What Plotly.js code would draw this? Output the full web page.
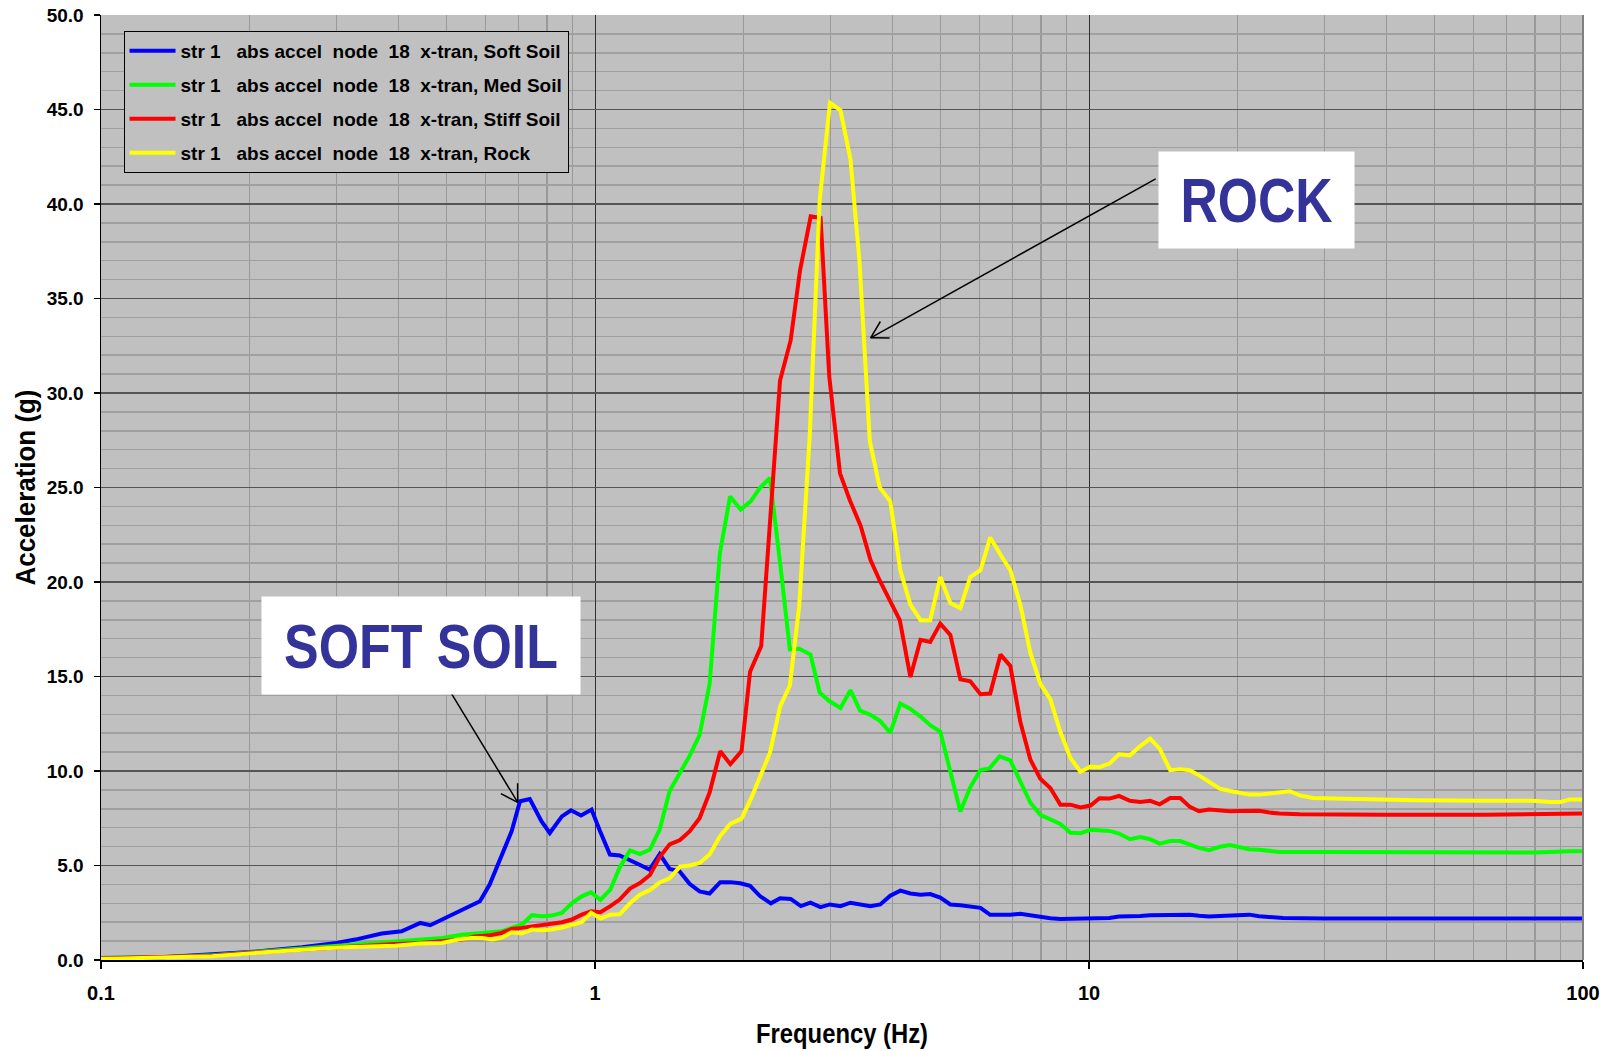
<!DOCTYPE html>
<html>
<head>
<meta charset="utf-8">
<script src="https://cdn.plot.ly/plotly-3.0.1.min.js"></script>
<style>
  html, body { margin: 0; padding: 0; background: #ffffff; }
  #chart { width: 1614px; height: 1051px; }
</style>
</head>
<body>
<div id="chart"></div>
<script>
// Absolute acceleration response, node 18 x-translation, four site classes.
// Frequencies in Hz, accelerations in g.

const freqSoft = [0.1, 0.133, 0.168, 0.2, 0.255, 0.3, 0.327, 0.37, 0.406, 0.443,
  0.464, 0.505, 0.537, 0.585, 0.612, 0.642, 0.678, 0.705, 0.738, 0.779,
  0.81, 0.857, 0.894, 0.937, 0.984, 1.024, 1.072, 1.122, 1.175, 1.231,
  1.29, 1.352, 1.416, 1.483, 1.554, 1.628, 1.706, 1.793, 1.879, 1.968,
  2.06, 2.16, 2.27, 2.37, 2.49, 2.61, 2.73, 2.86, 2.99, 3.14,
  3.29, 3.44, 3.61, 3.78, 3.96, 4.15, 4.35, 4.56, 4.77, 5.0,
  5.24, 5.49, 5.75, 6.03, 6.31, 6.62, 6.93, 7.26, 7.61, 7.97,
  8.35, 8.75, 9.17, 9.61, 10.07, 10.5, 11.0, 11.5, 12.1, 12.7,
  13.3, 14.6, 16.0, 16.7, 17.5, 18.4, 19.3, 20.2, 21.1, 22.1,
  23.2, 24.7, 30, 40, 60, 80, 100];
const accelSoft = [0.1, 0.15, 0.3, 0.42, 0.67, 0.9, 1.08, 1.4, 1.52, 1.96,
  1.84, 2.31, 2.67, 3.11, 3.99, 5.31, 6.81, 8.4, 8.52, 7.34,
  6.72, 7.6, 7.92, 7.65, 7.96, 6.81, 5.58, 5.53, 5.31, 5.04,
  4.78, 5.6, 4.82, 4.7, 4.03, 3.63, 3.52, 4.12, 4.12, 4.06,
  3.92, 3.37, 3.0, 3.27, 3.23, 2.85, 3.03, 2.8, 2.94, 2.85,
  3.03, 2.94, 2.85, 2.94, 3.4, 3.67, 3.52, 3.45, 3.49, 3.3,
  2.94, 2.9, 2.85, 2.76, 2.39, 2.39, 2.39, 2.45, 2.36, 2.3,
  2.21, 2.17, 2.17, 2.17, 2.17, 2.2, 2.22, 2.3, 2.3, 2.33,
  2.37, 2.38, 2.4, 2.34, 2.3, 2.33, 2.36, 2.4, 2.4, 2.32,
  2.27, 2.22, 2.2, 2.19, 2.18, 2.2, 2.2];

const freqMed = [0.1, 0.133, 0.168, 0.2, 0.255, 0.3, 0.35, 0.394, 0.443, 0.49,
  0.537, 0.59, 0.647, 0.678, 0.711, 0.745, 0.78, 0.817, 0.857, 0.897,
  0.94, 0.982, 1.026, 1.074, 1.122, 1.177, 1.233, 1.292, 1.352, 1.416,
  1.483, 1.554, 1.628, 1.706, 1.79, 1.877, 1.972, 2.066, 2.158, 2.26,
  2.37, 2.48, 2.59, 2.73, 2.85, 2.98, 3.14, 3.29, 3.44, 3.61,
  3.78, 3.96, 4.15, 4.35, 4.56, 4.77, 5.0, 5.24, 5.49, 5.75,
  6.03, 6.29, 6.59, 6.93, 7.26, 7.61, 7.97, 8.35, 8.75, 9.17,
  9.61, 10.07, 10.5, 11.0, 11.5, 12.1, 12.7, 13.3, 13.9, 14.6,
  15.3, 16.0, 16.7, 17.5, 18.4, 19.3, 20.2, 21.1, 22.1, 23.2,
  24.3, 30, 40, 60, 80, 94, 100];
const accelMed = [0.1, 0.15, 0.25, 0.4, 0.6, 0.75, 0.85, 0.94, 1.08, 1.17,
  1.34, 1.43, 1.52, 1.7, 1.87, 2.37, 2.31, 2.35, 2.49, 3.0,
  3.37, 3.58, 3.19, 3.72, 4.9, 5.8, 5.6, 5.85, 6.9, 8.94,
  9.87, 10.8, 11.9, 14.6, 21.54, 24.53, 23.83, 24.27, 24.98, 25.51,
  21.0, 16.43, 16.47, 16.16, 14.15, 13.7, 13.33, 14.28, 13.19, 12.97,
  12.64, 12.02, 13.57, 13.28, 12.88, 12.42, 12.09, 10.05, 7.86, 9.14,
  10.05, 10.14, 10.78, 10.56, 9.41, 8.32, 7.68, 7.45, 7.2, 6.73,
  6.71, 6.89, 6.87, 6.83, 6.69, 6.39, 6.51, 6.39, 6.16, 6.29,
  6.29, 6.11, 5.93, 5.81, 5.99, 6.08, 5.99, 5.86, 5.83, 5.76,
  5.72, 5.72, 5.72, 5.71, 5.69, 5.76, 5.76];

const freqStiff = [0.1, 0.133, 0.168, 0.2, 0.255, 0.3, 0.35, 0.394, 0.443, 0.46,
  0.505, 0.537, 0.57, 0.608, 0.647, 0.678, 0.711, 0.745, 0.78, 0.817,
  0.857, 0.897, 0.94, 0.982, 1.026, 1.074, 1.122, 1.177, 1.233, 1.292,
  1.352, 1.416, 1.486, 1.554, 1.628, 1.706, 1.793, 1.879, 1.98, 2.06,
  2.17, 2.369, 2.489, 2.6, 2.733, 2.862, 2.98, 3.133, 3.283, 3.45,
  3.61, 3.77, 3.95, 4.14, 4.35, 4.56, 4.77, 5.0, 5.24, 5.49,
  5.75, 6.03, 6.31, 6.62, 6.93, 7.26, 7.61, 7.97, 8.35, 8.75,
  9.17, 9.61, 10.07, 10.5, 11.0, 11.5, 12.1, 12.7, 13.3, 13.9,
  14.6, 15.3, 16.0, 16.7, 17.5, 18.4, 19.3, 20.2, 21.1, 22.1,
  23.2, 24.3, 26.7, 31.2, 40, 63, 80, 94, 100];
const accelStiff = [0.08, 0.13, 0.22, 0.38, 0.55, 0.7, 0.8, 0.85, 0.9, 0.94,
  1.0, 1.08, 1.25, 1.29, 1.43, 1.64, 1.7, 1.78, 1.82, 1.93,
  2.0, 2.14, 2.4, 2.58, 2.53, 2.85, 3.2, 3.78, 4.07, 4.5,
  5.45, 6.12, 6.35, 6.8, 7.5, 8.86, 11.05, 10.36, 11.05, 15.25,
  16.61, 30.66, 32.78, 36.48, 39.35, 39.26, 30.88, 25.75, 24.3, 22.97,
  21.18, 20.08, 18.98, 17.98, 14.97, 16.94, 16.83, 17.8, 17.2, 14.85,
  14.75, 14.06, 14.1, 16.16, 15.56, 12.6, 10.6, 9.59, 9.1, 8.22,
  8.22, 8.07, 8.17, 8.56, 8.54, 8.68, 8.42, 8.36, 8.42, 8.24,
  8.57, 8.57, 8.1, 7.87, 7.96, 7.89, 7.87, 7.89, 7.92, 7.9,
  7.8, 7.75, 7.71, 7.69, 7.69, 7.69, 7.71, 7.75, 7.75];

const freqRock = [0.1, 0.133, 0.168, 0.2, 0.232, 0.255, 0.284, 0.312, 0.35, 0.394,
  0.443, 0.49, 0.529, 0.562, 0.59, 0.618, 0.647, 0.678, 0.711, 0.745,
  0.78, 0.817, 0.857, 0.897, 0.94, 0.982, 1.026, 1.074, 1.122, 1.177,
  1.233, 1.292, 1.352, 1.416, 1.486, 1.554, 1.628, 1.706, 1.793, 1.879,
  1.98, 2.07, 2.17, 2.26, 2.37, 2.48, 2.59, 2.72, 2.85, 2.99,
  3.14, 3.29, 3.43, 3.6, 3.77, 3.96, 4.15, 4.35, 4.56, 4.77,
  5.0, 5.24, 5.49, 5.75, 6.03, 6.31, 6.62, 6.93, 7.26, 7.61,
  7.97, 8.35, 8.75, 9.17, 9.61, 10.07, 10.5, 11.0, 11.5, 12.1,
  12.7, 13.3, 13.9, 14.6, 15.3, 16.0, 16.7, 17.5, 18.4, 19.3,
  20.2, 21.1, 22.1, 23.2, 24.3, 25.5, 26.7, 28.4, 31.2, 36.4,
  46, 63, 79, 86, 90, 94, 100];
const accelRock = [0.05, 0.12, 0.2, 0.35, 0.48, 0.55, 0.62, 0.67, 0.72, 0.76,
  0.87, 0.9, 1.08, 1.17, 1.17, 1.08, 1.17, 1.47, 1.4, 1.61,
  1.57, 1.61, 1.72, 1.85, 2.0, 2.5, 2.2, 2.4, 2.42, 3.0,
  3.45, 3.7, 4.1, 4.32, 4.94, 5.0, 5.13, 5.58, 6.57, 7.2,
  7.48, 8.55, 9.8, 10.96, 13.42, 14.52, 18.71, 27.7, 40.2, 45.35,
  44.96, 42.35, 37.0, 27.45, 25.0, 24.27, 20.62, 18.8, 17.98, 17.98,
  20.26, 18.89, 18.62, 20.26, 20.62, 22.36, 21.44, 20.62, 18.8, 16.25,
  14.61, 13.8, 12.06, 10.69, 9.96, 10.23, 10.2, 10.39, 10.88, 10.83,
  11.32, 11.71, 11.18, 10.04, 10.09, 10.04, 9.77, 9.45, 9.07, 8.94,
  8.84, 8.75, 8.75, 8.8, 8.86, 8.93, 8.71, 8.57, 8.54, 8.5,
  8.45, 8.42, 8.42, 8.36, 8.36, 8.49, 8.49];

const NB = '\u00a0';
const seriesPrefix = 'str 1' + NB + NB + ' abs accel' + NB + ' node' + NB + ' 18' + NB + ' x-tran, ';
const seriesNames = ['Soft Soil', 'Med Soil', 'Stiff Soil', 'Rock'];
const seriesColors = ['#0000ff', '#00ff00', '#ff0000', '#ffff00'];

const xRange = [-1, 2];          // log10 of 0.1 .. 100 Hz
const yRange = [0, 50];
const xTickVals = [0.1, 1, 10, 100];
const xTickText = ['0.1', '1', '10', '100'];
const xMinorVals = [0.2, 0.3, 0.4, 0.5, 0.6, 0.7, 0.8, 0.9,
  2, 3, 4, 5, 6, 7, 8, 9, 20, 30, 40, 50, 60, 70, 80, 90];

// Callout targets (frequency in Hz, acceleration in g)
const rockTarget = [3.614, 32.92];
const softTarget = [0.6975, 8.34];

const FONT = 'Liberation Sans, Arial, Helvetica, sans-serif';

const xs = [freqSoft, freqMed, freqStiff, freqRock];
const ys = [accelSoft, accelMed, accelStiff, accelRock];

const traces = seriesNames.map((n, i) => ({
  type: 'scatter',
  mode: 'lines',
  name: seriesPrefix + n,
  x: xs[i],
  y: ys[i],
  line: { color: seriesColors[i], width: 4 },
  legendgroup: 'g' + i
}));

// Horizontal position of a frequency on the log axis, as a fraction of the plot width
function freqToPaper(f) {
  return (Math.log10(f) - xRange[0]) / (xRange[1] - xRange[0]);
}

// Open arrow: shaft from head to tail (screen px offset), two short barbs at the head.
function arrowShapes(head, tailDx, tailDy, barbLen, barbDeg) {
  const base = {
    type: 'line', xref: 'paper', yref: 'y',
    xsizemode: 'pixel', ysizemode: 'pixel',
    xanchor: freqToPaper(head[0]), yanchor: head[1],
    line: { color: '#000000', width: 1.5 }
  };
  const ang = Math.atan2(tailDy, tailDx);
  const out = [Object.assign({}, base, { x0: 0, y0: 0, x1: tailDx, y1: -tailDy })];
  [-1, 1].forEach(s => {
    const a = ang + s * barbDeg * Math.PI / 180;
    out.push(Object.assign({}, base, {
      x0: 0, y0: 0, x1: barbLen * Math.cos(a), y1: -barbLen * Math.sin(a)
    }));
  });
  return out;
}

const shapes = [
  // right frame edge of the plotting area
  { type: 'line', xref: 'paper', yref: 'paper', x0: 1, x1: 1, y0: 0, y1: 1,
    line: { color: '#808080', width: 2 } }
].concat(arrowShapes(rockTarget, 285, -159, 19, 30))
 .concat(arrowShapes(softTarget, -67, -110, 19, 31));

const layout = {
  width: 1614,
  height: 1051,
  margin: { l: 101, r: 31, t: 15, b: 91 },
  paper_bgcolor: '#ffffff',
  plot_bgcolor: '#c0c0c0',
  font: { family: FONT, color: '#000000', size: 19, weight: 700 },
  showlegend: true,
  legend: {
    x: 0.0152, y: 0.9832, xanchor: 'left', yanchor: 'top',
    bgcolor: '#c0c0c0', bordercolor: '#000000', borderwidth: 1,
    font: { family: FONT, size: 19, color: '#000000', weight: 700 },
    traceorder: 'grouped', tracegroupgap: 6.3,
    itemwidth: 46
  },
  xaxis: {
    type: 'log',
    range: xRange,
    tickmode: 'array',
    tickvals: xTickVals,
    ticktext: xTickText,
    ticks: 'outside', ticklen: 7, tickwidth: 1.5, tickcolor: '#000000',
    ticklabelstandoff: 7,
    tickfont: { family: FONT, size: 20, weight: 700 },
    showline: true, linecolor: '#000000', linewidth: 1.5,
    showgrid: true, gridcolor: '#303030', gridwidth: 1,
    minor: { tickmode: 'array', tickvals: xMinorVals, showgrid: true,
             gridcolor: '#999999', gridwidth: 1.5, ticks: '' },
    zeroline: false,
    title: { text: 'Frequency (Hz)', standoff: 21,
             font: { family: FONT, size: 27, weight: 700 } }
  },
  yaxis: {
    range: yRange,
    dtick: 5, tick0: 0,
    tickformat: '.1f',
    ticks: 'outside', ticklen: 6, tickwidth: 1.5, tickcolor: '#000000',
    ticklabelstandoff: 6,
    tickfont: { family: FONT, size: 19, weight: 700 },
    showline: true, linecolor: '#000000', linewidth: 1.5,
    showgrid: true, gridcolor: '#555555', gridwidth: 1.5,
    minor: { dtick: 1, showgrid: true, gridcolor: '#a0a0a0', gridwidth: 1.5, ticks: '' },
    zeroline: false,
    title: { text: 'Acceleration (g)', standoff: 3,
             font: { family: FONT, size: 27, weight: 700 } }
  },
  shapes: shapes,
  annotations: [
    { xref: 'paper', yref: 'paper', x: 0.7132, y: 0.8562,
      xanchor: 'left', yanchor: 'top', width: 195, height: 96,
      showarrow: false, text: 'ROCK', bgcolor: '#ffffff', borderpad: 0,
      align: 'center', valign: 'middle',
      font: { family: FONT, size: 63, weight: 700, color: '#333399' } },
    { xref: 'paper', yref: 'paper', x: 0.1082, y: 0.3856,
      xanchor: 'left', yanchor: 'top', width: 318, height: 97,
      showarrow: false, text: 'SOFT SOIL', bgcolor: '#ffffff', borderpad: 0,
      align: 'center', valign: 'middle',
      font: { family: FONT, size: 63, weight: 700, color: '#333399' } }
  ]
};

// Condensed lettering: squeeze text horizontally to a set advance width
const condensedWidths = { 'ROCK': 152, 'SOFT SOIL': 274, 'Frequency (Hz)': 172, 'Acceleration (g)': 196 };

function condenseText(gd) {
  gd.querySelectorAll('text').forEach(t => {
    const w = condensedWidths[t.textContent];
    if (w) {
      t.setAttribute('textLength', w);
      t.setAttribute('lengthAdjust', 'spacingAndGlyphs');
    }
  });
}

Plotly.newPlot('chart', traces, layout, { displayModeBar: false, staticPlot: true })
  .then(condenseText);
</script>
</body>
</html>
